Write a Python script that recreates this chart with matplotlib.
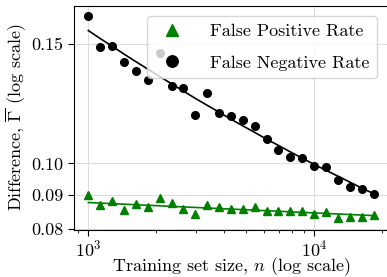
import matplotlib
matplotlib.use('Agg')
import matplotlib.pyplot as plt
from matplotlib.ticker import FixedLocator, FixedFormatter, NullLocator, NullFormatter

plt.rcParams['font.family'] = 'cmr10'
plt.rcParams['mathtext.fontset'] = 'cm'
plt.rcParams['axes.unicode_minus'] = False
plt.rcParams['axes.formatter.use_mathtext'] = True

# training set sizes
n_sizes = [1000, 1129, 1274, 1438, 1624, 1833, 2069, 2336, 2637, 2976,
           3360, 3793, 4281, 4833, 5456, 6158, 6952, 7848, 8859, 10000,
           11288, 12743, 14384, 16238, 18330]

fpr = [0.0898, 0.0868, 0.0882, 0.0855, 0.0872, 0.0863, 0.0891, 0.0874, 0.0857, 0.0843,
       0.0868, 0.0863, 0.0858, 0.0856, 0.0862, 0.0851, 0.0851, 0.0851, 0.0850, 0.0842,
       0.0849, 0.0830, 0.0833, 0.0835, 0.0840]

fnr = [0.1649, 0.1483, 0.1490, 0.1411, 0.1369, 0.1327, 0.1453, 0.1300, 0.1293, 0.1180,
       0.1268, 0.1187, 0.1176, 0.1159, 0.1137, 0.1086, 0.1045, 0.1021, 0.1018, 0.0993,
       0.0988, 0.0944, 0.0923, 0.0916, 0.0901]

# fitted curves
fnr_fit = [0.1569, 0.1527, 0.1488, 0.1449, 0.1412, 0.1377, 0.1343, 0.1310, 0.1278, 0.1247,
           0.1218, 0.1190, 0.1162, 0.1136, 0.1111, 0.1086, 0.1063, 0.1040, 0.1018, 0.0997,
           0.0977, 0.0958, 0.0939, 0.0920, 0.0903]
fpr_fit_n = [1000, 18330]
fpr_fit = [0.0876, 0.0838]

yticks = [0.08, 0.09, 0.10, 0.15]
ytick_labels = ['0.08', '0.09', '0.10', '0.15']

fig = plt.figure(figsize=(3.87, 2.77), dpi=100)
ax = fig.add_axes([74 / 387, 47.5 / 277, 314 / 387, 224 / 277])

ax.plot(n_sizes, fnr_fit, color='black', lw=1.2, zorder=3)
ax.plot(fpr_fit_n, fpr_fit, color='green', lw=1.2, zorder=3)
ax.plot(n_sizes, fpr, '^', color='green', ms=6, ls='none', label='False Positive Rate', zorder=4)
ax.plot(n_sizes, fnr, 'o', color='black', ms=5.5, ls='none', label='False Negative Rate', zorder=4)

ax.set_xscale('log')
ax.set_yscale('log')
ax.set_xlim(864, 21250)
ax.set_ylim(0.07995, 0.1708)

ax.yaxis.set_major_locator(FixedLocator(yticks))
ax.yaxis.set_major_formatter(FixedFormatter(ytick_labels))
ax.yaxis.set_minor_locator(NullLocator())
ax.yaxis.set_minor_formatter(NullFormatter())

ax.grid(True, which='major', color='#dddddd', lw=0.8)
ax.set_axisbelow(True)
ax.tick_params(which='major', labelsize=13, length=4, width=0.8)
ax.tick_params(which='minor', length=2, width=0.6)
ax.tick_params(axis='x', which='major', pad=2.5)
ax.spines['right'].set_visible(False)

ax.set_xlabel(r'Training set size, $n$ (log scale)', fontsize=13, labelpad=-3)
ax.set_ylabel(r'Difference, $\overline{\Gamma}$ (log scale)', fontsize=13, labelpad=2)

# legend box spans about x 143..377, y 16..77 in the reference
ax.legend(loc='upper right', fontsize=13, markerscale=1.5, framealpha=0.8,
          labelspacing=0.9, handletextpad=1.1,
          bbox_to_anchor=(377 / 387, 1 - 16 / 277), bbox_transform=fig.transFigure,
          borderaxespad=0)

fig.savefig('out.png', dpi=100)
